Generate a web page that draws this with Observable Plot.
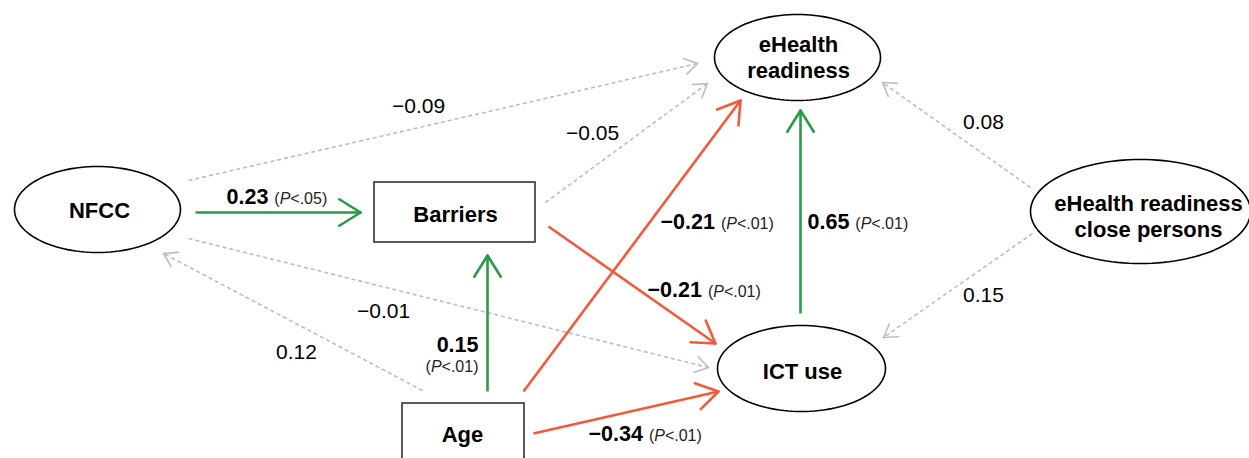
<!DOCTYPE html>
<html><head><meta charset="utf-8">
<script src="https://cdn.jsdelivr.net/npm/d3@7"></script>
<script src="https://cdn.jsdelivr.net/npm/@observablehq/plot@0.6"></script>
<style>body{margin:0;background:#fff;} #chart svg{display:block}</style>
</head><body><div id="chart"></div>
<script>
// ---- data ----
const nodeIds    = ["NFCC", "Barriers", "Age", "eHealth", "ICT", "Close"];
const nodeLabels = ["NFCC", "Barriers", "Age", "eHealth\nreadiness", "ICT use", "eHealth readiness\nclose persons"];
const nodeShapes = ["ellipse", "rect", "rect", "ellipse", "ellipse", "ellipse"];

const edgeFrom = ["NFCC", "Age", "Barriers", "Age", "Age", "ICT", "NFCC", "Barriers", "NFCC", "Age", "Close", "Close"];
const edgeTo   = ["Barriers", "Barriers", "ICT", "eHealth", "ICT", "eHealth", "eHealth", "eHealth", "ICT", "NFCC", "eHealth", "ICT"];
const edgeCoef = [0.23, 0.15, -0.21, -0.21, -0.34, 0.65, -0.09, -0.05, -0.01, 0.12, 0.08, 0.15];
const edgeP    = ["<.05", "<.01", "<.01", "<.01", "<.01", "<.01", null, null, null, null, null, null];

// ---- layout (diagram geometry) ----
const nodeCX = [97, 454.5, 463, 797, 801, 1140];
const nodeCY = [209, 212, 434, 57, 368, 211];
const nodeRX = [83, 80.5, 61, 83, 84, 110];
const nodeRY = [43, 30, 31, 43, 43, 52];
const nodeTY = [209, 213, 433, 56, 370, 215];
const nodeTX = [99, 455, 462, 798, 802, 1148];

const edgeX1 = [195, 487, 548, 523, 533, 800, 188, 545, 188, 422, 1030, 1032];
const edgeY1 = [212, 391, 226, 391, 433, 313, 180, 202, 238, 390, 187, 233];
const edgeX2 = [360, 487, 715, 740, 718, 800, 697, 707, 708, 163, 882, 883];
const edgeY2 = [212, 255, 343, 100, 391, 110, 63, 83, 367, 253, 82, 337];

const labelX = [226, 478, 647, 660, 588, 807, 418, 592, 383, 296, 983, 983];
const labelY = [197, 345, 290, 222, 434, 222, 106, 133, 311, 352, 122, 295];
const labelAnchor = ["start", "end", "start", "start", "start", "start", "middle", "middle", "middle", "middle", "middle", "middle"];

const GREEN = "#2a9b47", RED = "#f15a3b", GRAY = "#bdbdbd";
const fmt = d3.format(".2f");

// ---- build tables ----
const nodes = nodeIds.map((id, i) => ({id, label: nodeLabels[i], shape: nodeShapes[i],
  cx: nodeCX[i], cy: nodeCY[i], rx: nodeRX[i], ry: nodeRY[i], tx: nodeTX[i], ty: nodeTY[i]}));
const ellipsePts = nodes.filter(n => n.shape === "ellipse").flatMap(n =>
  d3.range(120).map(k => {const t = 2 * Math.PI * k / 120; return {id: n.id, x: n.cx + n.rx * Math.cos(t), y: n.cy + n.ry * Math.sin(t)};}));
const rects = nodes.filter(n => n.shape === "rect");

const edges = edgeFrom.map((f, i) => {
  const sig = edgeP[i] !== null;
  const color = !sig ? GRAY : (edgeCoef[i] > 0 ? GREEN : RED);
  return {from: f, to: edgeTo[i], coef: edgeCoef[i], p: edgeP[i], sig, color,
    x1: edgeX1[i], y1: edgeY1[i], x2: edgeX2[i], y2: edgeY2[i],
    lx: labelX[i], ly: labelY[i], anchor: labelAnchor[i]};
});
const wings = edges.flatMap(e => {
  const dx = e.x1 - e.x2, dy = e.y1 - e.y2, len = Math.hypot(dx, dy);
  const ux = dx / len, uy = dy / len, L = e.sig ? 25 : 15, a = 32 * Math.PI / 180;
  return [-1, 1].map(s => ({...e,
    wx: e.x2 + L * (ux * Math.cos(s * a) - uy * Math.sin(s * a)),
    wy: e.y2 + L * (ux * Math.sin(s * a) + uy * Math.cos(s * a))}));
});

const sigInline = edges.filter(e => e.sig && e.anchor === "start");
const sigStacked = edges.filter(e => e.sig && e.anchor === "end");
const nsLabels = edges.filter(e => !e.sig);

const plot = Plot.plot({
  width: 1249, height: 458,
  margin: 0,
  x: {domain: [0, 1249], range: [0, 1249], axis: null},
  y: {domain: [0, 458], range: [0, 458], axis: null},
  style: {fontFamily: "'Liberation Sans', Arial, sans-serif", background: "#fff"},
  marks: [
    Plot.link(edges.filter(e => !e.sig), {x1: "x1", y1: "y1", x2: "x2", y2: "y2", stroke: GRAY, strokeWidth: 1.6, strokeDasharray: "4,3"}),
    Plot.link(edges.filter(e => e.sig), {x1: "x1", y1: "y1", x2: "x2", y2: "y2", stroke: d => d.color, strokeWidth: 2.6}),
    Plot.link(wings, {x1: "x2", y1: "y2", x2: "wx", y2: "wy", stroke: d => d.color, strokeWidth: d => d.sig ? 2.6 : 1.6, strokeLinecap: "round"}),
    Plot.line(ellipsePts, {x: "x", y: "y", z: "id", curve: "linear-closed", stroke: "#000", strokeWidth: 1.6, fill: "white"}),
    Plot.rect(rects, {x1: d => d.cx - d.rx, x2: d => d.cx + d.rx, y1: d => d.cy - d.ry, y2: d => d.cy + d.ry, stroke: "#333", strokeWidth: 1.6, fill: "white"}),
    Plot.text(nodes, {x: "tx", y: "ty", text: "label", fontSize: 22, fontWeight: "bold", lineHeight: 1.2, fill: "#000"}),
    Plot.text(nsLabels, {x: "lx", y: "ly", text: d => fmt(d.coef), fontSize: 21, fill: "#000"}),
    Plot.text(sigInline, {x: "lx", y: "ly", text: d => fmt(d.coef) + "\u00a7" + d.p, textAnchor: "start", fontSize: 21.5, fill: "#000"}),
    Plot.text(sigStacked, {x: "lx", y: "ly", text: d => fmt(d.coef), textAnchor: "end", fontSize: 21.5, fontWeight: "bold", fill: "#000"}),
    Plot.text(sigStacked, {x: "lx", y: "ly", dy: 21, text: d => "(P" + d.p + ")", textAnchor: "end", fontSize: 16, fill: "#222"})
  ]
});

// rich text: bold coefficient, small "(P<..)" with italic P
const NS = "http://www.w3.org/2000/svg";
function ts(parent, txt, attrs) {
  const t = document.createElementNS(NS, "tspan");
  t.textContent = txt;
  for (const k in attrs) t.setAttribute(k, attrs[k]);
  parent.appendChild(t);
}
plot.querySelectorAll("text").forEach(t => {
  const s = t.textContent;
  if (s.includes("\u00a7")) {
    const [v, p] = s.split("\u00a7");
    t.textContent = "";
    ts(t, v + " ", {"font-weight": "bold"});
    ts(t, "(", {"font-size": 16, fill: "#222"});
    ts(t, "P", {"font-size": 16, "font-style": "italic", fill: "#222"});
    ts(t, p + ")", {"font-size": 16, fill: "#222"});
  } else if (/^\(P</.test(s)) {
    t.textContent = "";
    ts(t, "(", {});
    ts(t, "P", {"font-style": "italic"});
    ts(t, s.slice(2), {});
  }
});
document.getElementById("chart").appendChild(plot);
</script>
</body></html>
